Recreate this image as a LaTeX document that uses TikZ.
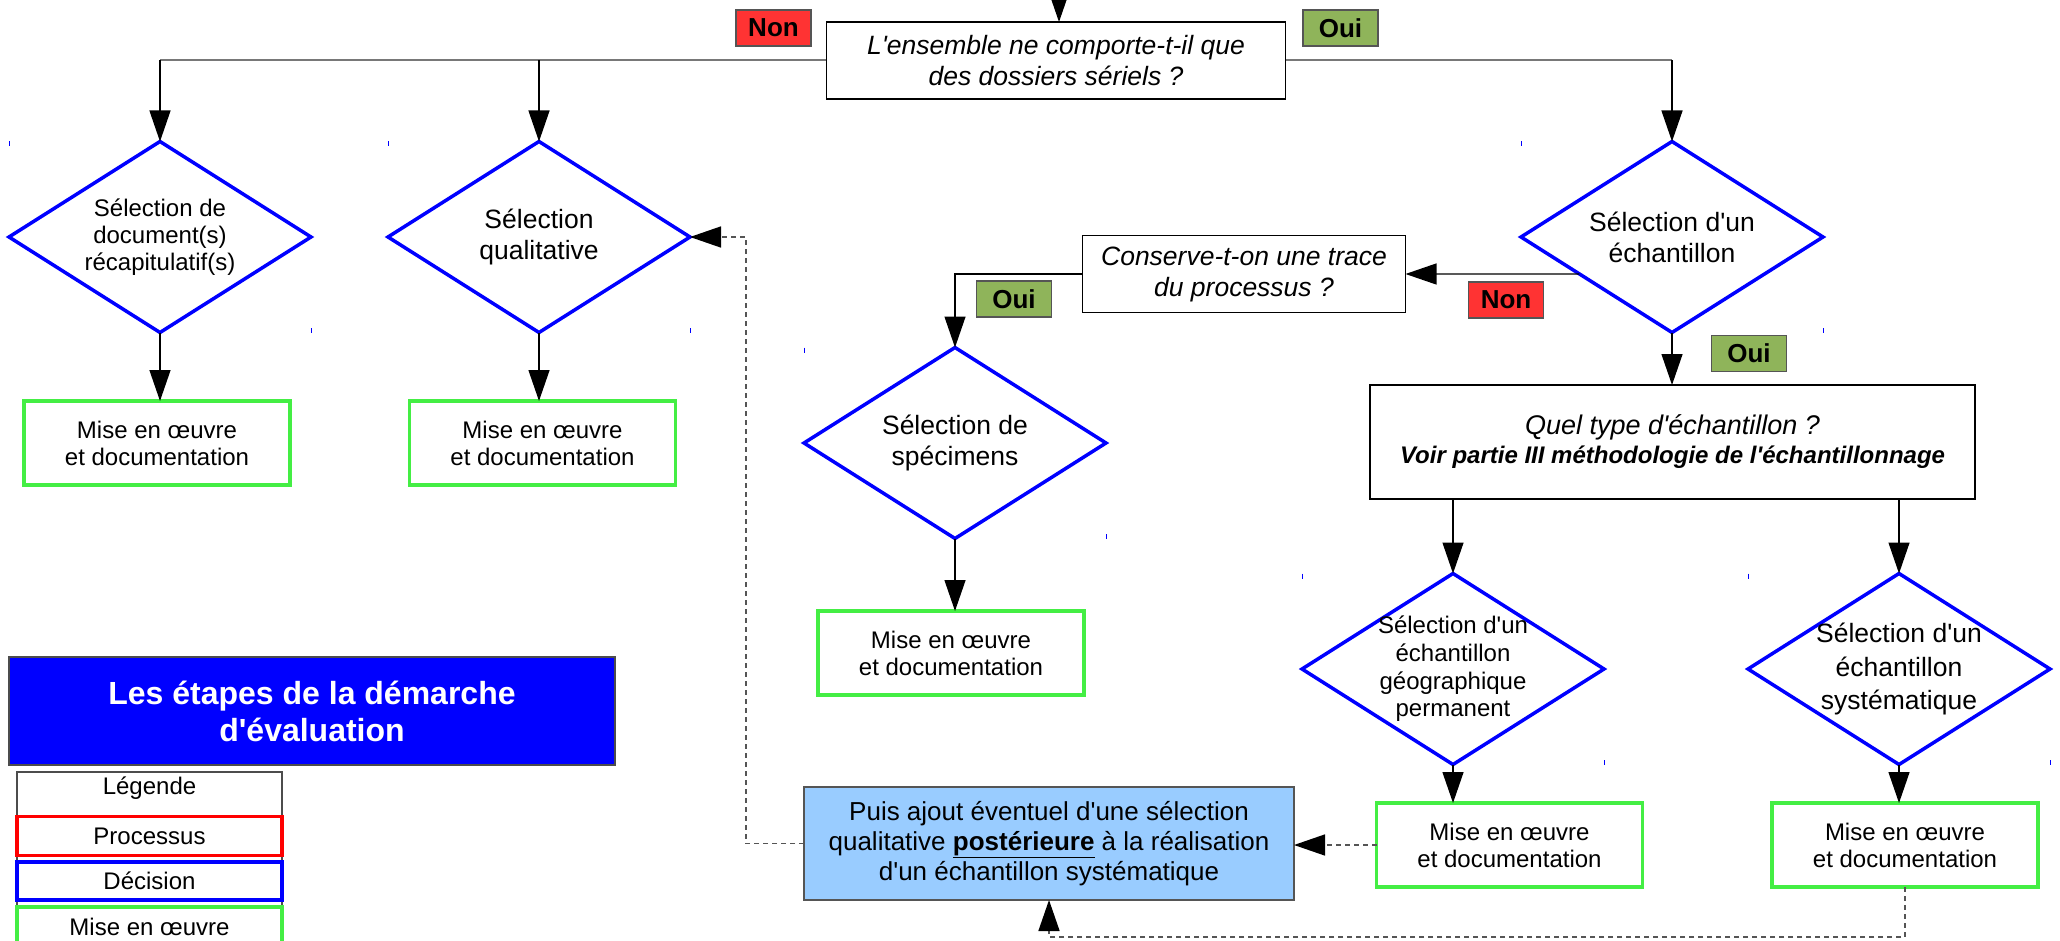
\documentclass[tikz,border=0pt]{standalone}
\usepackage{fontspec}
\setmainfont{Liberation Sans}
\newfontfamily\libsans{Liberation Sans}
\usetikzlibrary{shapes.geometric,arrows.meta,calc,backgrounds}
\definecolor{dblue}{RGB}{0,0,255}
\definecolor{dgreen}{RGB}{68,238,68}
\definecolor{nonred}{RGB}{255,51,51}
\definecolor{ouigreen}{RGB}{143,180,90}
\definecolor{lblue}{RGB}{153,204,255}
\definecolor{edgegray}{RGB}{85,85,85}
\definecolor{bargray}{RGB}{120,120,120}
\newcommand\fszS{\fontsize{24}{27}\selectfont}
\newcommand\fszM{\fontsize{26.5}{31}\selectfont}
\begin{document}
\libsans
\begin{tikzpicture}[x=1pt,y=-1pt,
  every node/.style={inner sep=0pt,outer sep=0pt},
  decision/.style={draw=dblue,line width=3.5pt,shape=diamond,minimum width=302pt,minimum height=191pt},
  dtext/.style={align=center,font=\fszS},
  impl/.style={draw=dgreen,line width=3.5pt,fill=white,minimum width=266pt,minimum height=84pt,align=center,font=\fszS},
  question/.style={draw=black,line width=1.3pt,fill=white,align=center,font=\itshape\fszM},
  tag/.style={draw=edgegray,line width=1.2pt,minimum width=75pt,minimum height=36pt,font=\bfseries\fontsize{26}{30}\selectfont},
  conn/.style={line width=1.3pt,draw=black},
  arr/.style={conn,-{Triangle[length=31pt,width=21pt]}},
  bar/.style={line width=2pt,draw=bargray},
  dline/.style={line width=1.5pt,draw=edgegray,dash pattern=on 5pt off 4pt,-{Triangle[length=31pt,width=21pt,color=black,fill=black]}},
  tick/.style={draw=dblue,line width=1pt},
  legbox/.style={line width=3.5pt,fill=white,minimum width=265pt,font=\fszS}
]
\useasboundingbox (0,0) rectangle (2060,941);
\clip (0,0) rectangle (2060,941);

% top question
\node[question,minimum width=459pt,minimum height=77pt] (q1) at (1056,60.5) {L'ensemble ne comporte-t-il que\\des dossiers sériels ?};
\node[tag,fill=nonred] (non1) at (773.5,28) {Non};
\node[tag,fill=ouigreen] (oui1) at (1340.5,28) {Oui};

% decisions
\node[decision,label={[dtext]center:{Sélection de\\document(s)\\récapitulatif(s)}}] (d1) at (160,237) {};
\node[decision,label={[dtext,font=\fszM]center:{Sélection\\qualitative}}] (d2) at (539,237) {};
\node[decision,label={[dtext,font=\fszM]center:{Sélection d'un\\échantillon}}] (d3) at (1672,237) {};
\node[decision,label={[dtext,font=\fszM]center:{Sélection de\\spécimens}}] (d4) at (955,443) {};
\node[decision,label={[dtext,font=\fontsize{24}{27.6}\selectfont]center:{Sélection d'un\\échantillon\\géographique\\permanent}}] (d5) at (1453,669) {};
\node[decision,label={[dtext,font=\fontsize{26.5}{33.5}\selectfont]center:{Sélection d'un\\échantillon\\systématique}}] (d6) at (1899,669) {};

% implementation boxes
\node[impl] (g1) at (157,443) {Mise en œuvre\\et documentation};
\node[impl] (g2) at (542.5,443) {Mise en œuvre\\et documentation};
\node[impl] (g3) at (951,653) {Mise en œuvre\\et documentation};
\node[impl] (g4) at (1509.5,845) {Mise en œuvre\\et documentation};
\node[impl] (g5) at (1905,845) {Mise en œuvre\\et documentation};

% other questions
\node[question,minimum width=323pt,minimum height=77pt] (cons) at (1244,274) {Conserve-t-on une trace\\du processus ?};
\node[draw=black,line width=1.3pt,minimum width=605pt,minimum height=114pt,align=center,font=\itshape\fontsize{24}{29}\selectfont] (quel) at (1672.5,442) {{\fontsize{27}{29}\selectfont Quel type d'échantillon ?}\\{\bfseries Voir partie III méthodologie de l'échantillonnage}};
\node[tag,fill=nonred] (non2) at (1506,300) {Non};
\node[tag,fill=ouigreen] (oui2) at (1014,299) {Oui};
\node[tag,fill=ouigreen] (oui3) at (1749,353.5) {Oui};

% later qualitative selection
\node[draw=edgegray,line width=1.3pt,fill=lblue,minimum width=490pt,minimum height=113pt,align=center,font=\fontsize{26}{30}\selectfont] (bb) at (1049,843.5) {Puis ajout éventuel d'une sélection\\qualitative \textbf{\underline{postérieure}} à la réalisation\\d'un échantillon systématique};

% title and legend
\node[draw=black!70,line width=1.3pt,fill=dblue,text=white,minimum width=606pt,minimum height=108pt,align=center,font=\bfseries\fontsize{32}{37}\selectfont] (title) at (312,711) {Les étapes de la démarche\\d'évaluation};
\node[draw=black!70,line width=1.3pt,minimum width=265pt,minimum height=190pt,anchor=north west] (leg) at (17,772) {};
\node[font=\fszS] (legt) at (149.5,788) {Légende};
\node[legbox,draw=red,minimum height=39pt] (lproc) at (149.5,836) {Processus};
\node[legbox,draw=dblue,minimum height=38pt] (ldec) at (149.5,881) {Décision};
\node[legbox,draw=dgreen,minimum height=40pt] (limpl) at (149.5,927) {Mise en œuvre};

\begin{pgfonlayer}{background}
\draw[bar] (d1.north |- q1.center) -- (d3.north |- q1.center);
\end{pgfonlayer}

\coordinate (src) at (1059,-40);
\draw[arr] (src) -- (src |- q1.north);
\draw[arr] (d1.north |- q1.center) -- (d1.north);
\draw[arr] (d2.north |- q1.center) -- (d2.north);
\draw[arr] (d3.north |- q1.center) -- (d3.north);
\draw[arr] (d1.south) -- (d1.south |- g1.north);
\draw[arr] (d2.south) -- (d2.south |- g2.north);
\draw[arr] ($(d3.west)!0.387!(d3.south)$) -- (cons.east);
\draw[arr] (cons.west) -| (d4.north);
\draw[arr] (d3.south) -- (d3.south |- quel.north);
\draw[arr] (d4.south) -- (d4.south |- g3.north);
\draw[arr] (quel.south -| d5.north) -- (d5.north);
\draw[arr] (quel.south -| d6.north) -- (d6.north);
\draw[arr] (d5.south) -- (d5.south |- g4.north);
\draw[arr] (d6.south) -- (d6.south |- g5.north);

\draw[dline] (g4.west) -- (g4.west -| bb.east);
\coordinate (lowrun) at (0,937);
\draw[dline] (g5.south) |- (lowrun -| bb.south) -- (bb.south);
\coordinate (leftrun) at (746,0);
\draw[dline] (bb.west) -| (leftrun |- d2.east) -- (d2.east);

\foreach \d in {d1,d2,d3,d4,d5,d6}{
  \draw[tick] (\d.west |- \d.north) -- ++(0,5);
  \draw[tick] (\d.east |- \d.south) -- ++(0,-5);
}
\end{tikzpicture}
\end{document}
